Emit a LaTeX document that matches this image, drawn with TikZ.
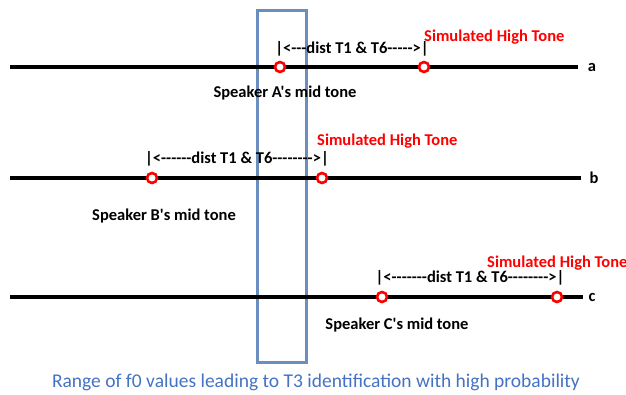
\documentclass[tikz,border=0pt]{standalone}
\usepackage{fontspec}
\setmainfont{Carlito}[Ligatures=TeXOff]
\definecolor{rectblue}{RGB}{108,142,191}
\definecolor{capblue}{RGB}{68,114,196}
\definecolor{tonered}{RGB}{255,0,0}
\begin{document}
\begin{tikzpicture}[x=1pt,y=-1pt,
  tone/.style={circle,draw=tonered,fill=white,line width=2.6pt,minimum size=10pt,inner sep=0pt},
  axisline/.style={line width=3.2pt,black},
  lbl/.style={font=\fontsize{16.5}{19}\selectfont\bfseries,inner sep=0pt},
  hitone/.style={lbl,text=tonered,anchor=west},
  rangebox/.style={draw=rectblue,line width=3pt,minimum width=49pt,minimum height=351pt,inner sep=0pt},
  caption/.style={font=\fontsize{19.5}{23}\selectfont,text=capblue,inner sep=0pt}]
\useasboundingbox (0,0) rectangle (626,395);
\node[rangebox] (range) at (281.5,186.5) {};
% line a
\coordinate (a0) at (10,67);
\coordinate (a1) at (578,67);
\draw[axisline] (a0) -- (a1);
\node[tone] (ma) at (280,67) {};
\node[tone] (ha) at (424,67) {};
\node[lbl] (la) at (592,67) {a};
\node[lbl] (da) at (352,49) {|<---dist T1 \& T6----->|};
\node[hitone] (sa) at (424,37) {Simulated High Tone};
\node[lbl] (spa) at (285,93) {Speaker A's mid tone};
% line b
\coordinate (b0) at (10,178);
\coordinate (b1) at (581,178);
\draw[axisline] (b0) -- (b1);
\node[tone] (mb) at (152,178) {};
\node[tone] (hb) at (322,178) {};
\node[lbl] (lb) at (594,178) {b};
\node[lbl] (db) at (237,159) {|<------dist T1 \& T6-------->|};
\node[hitone] (sb) at (317,141) {Simulated High Tone};
\node[lbl] (spb) at (164,216) {Speaker B's mid tone};
% line c
\coordinate (c0) at (10,297);
\coordinate (c1) at (583,297);
\draw[axisline] (c0) -- (c1);
\node[tone] (mc) at (382,297) {};
\node[tone] (hc) at (557,297) {};
\node[lbl] (lc) at (592,297) {c};
\node[lbl] (dc) at (470,278) {|<-------dist T1 \& T6-------->|};
\node[hitone] (sc) at (487,263) {Simulated High Tone};
\node[lbl] (spc) at (397,325) {Speaker C's mid tone};
% caption
\node[caption] (cap) at (316,382) {Range of f0 values leading to T3 identification with high probability};
\end{tikzpicture}
\end{document}
